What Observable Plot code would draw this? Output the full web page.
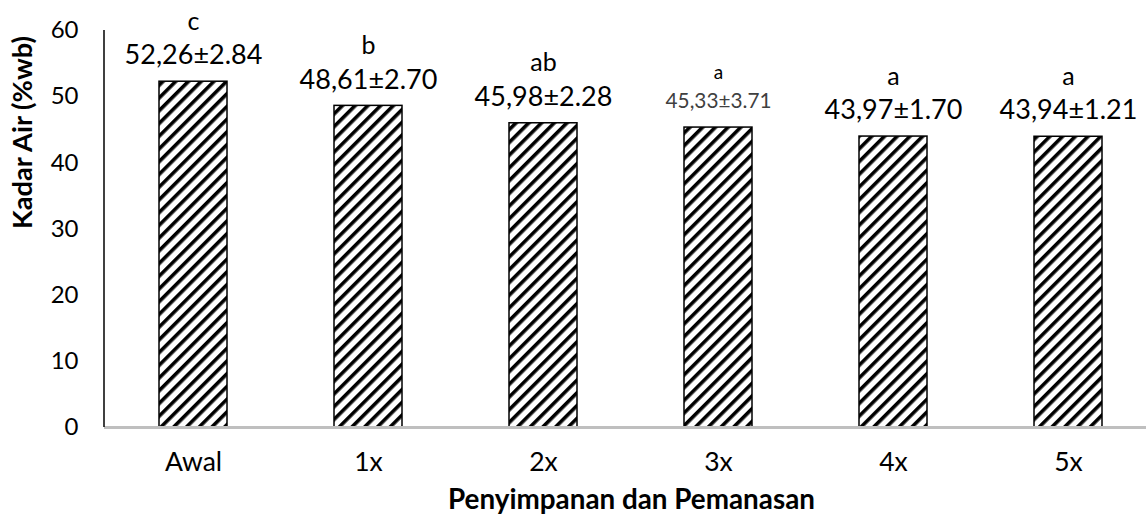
<!DOCTYPE html>
<html>
<head>
<meta charset="utf-8">
<script src="https://cdn.jsdelivr.net/npm/d3@7"></script>
<script src="https://cdn.jsdelivr.net/npm/@observablehq/plot@0.6"></script>
<style>
  html, body { margin: 0; padding: 0; background: #fff; }
  #chart svg { display: block; font-family: Lato, "Open Sans", sans-serif; }
</style>
</head>
<body>
<div id="chart"></div>
<script>
const categories = ["Awal", "1x", "2x", "3x", "4x", "5x"];
const means = [52.26, 48.61, 45.98, 45.33, 43.97, 43.94];
const sds = [2.84, 2.70, 2.28, 3.71, 1.70, 1.21];
const letters = ["c", "b", "ab", "a", "a", "a"];
const yTicks = [0, 10, 20, 30, 40, 50, 60];
const yLabel = "Kadar Air (%wb)";
const xLabel = "Penyimpanan dan Pemanasan";

const data = categories.map((c, i) => ({
  cat: c,
  value: means[i],
  label: means[i].toFixed(2).replace(".", ",") + "±" + sds[i].toFixed(2),
  letter: letters[i]
}));

const small = d => d.cat === "3x";
const big = d => d.cat !== "3x";

const W = 1146, H = 517;
const mL = 104, mB = 90, mT = 30;

const yAxisLine = (index, scales) => {
  const line = document.createElementNS("http://www.w3.org/2000/svg", "line");
  line.setAttribute("x1", mL);
  line.setAttribute("x2", mL);
  line.setAttribute("y1", scales.y(60));
  line.setAttribute("y2", scales.y(0));
  line.setAttribute("stroke", "#000");
  line.setAttribute("stroke-width", 1.5);
  return line;
};

const chart = Plot.plot({
  width: W,
  height: H,
  marginLeft: mL,
  marginRight: 0,
  marginTop: mT,
  marginBottom: mB,
  style: { fontFamily: "Lato, 'Open Sans', sans-serif", background: "#fff", overflow: "visible" },
  x: { domain: categories, range: [mL, 1158], paddingInner: 0.61, paddingOuter: 0.305, label: null },
  y: { domain: [0, 60], label: null },
  marks: [
    Plot.barY(data, { x: "cat", y: "value", fill: "url(#hatch)", stroke: "#000", strokeWidth: 1.5 }),
    Plot.ruleY([0], { stroke: "#bfbfbf", strokeWidth: 3 }),
    yAxisLine,
    Plot.axisY({ ticks: yTicks, tickSize: 0, tickPadding: 26, fontSize: 24, fill: "#000", label: null }),
    Plot.axisX({ tickSize: 0, tickPadding: 25, fontSize: 26.5, fill: "#000", label: null }),
    Plot.text(data.filter(big), { x: "cat", y: "value", text: "label", dy: -26, fontSize: 27, fill: "#000" }),
    Plot.text(data.filter(big), { x: "cat", y: "value", text: "letter", dy: -60, fontSize: 25, fill: "#000" }),
    Plot.text(data.filter(small), { x: "cat", y: "value", text: "label", dy: -26, fontSize: 19, fill: "#404040" }),
    Plot.text(data.filter(small), { x: "cat", y: "value", text: "letter", dy: -55, fontSize: 19, fill: "#000" }),
    Plot.text([yLabel], { frameAnchor: "left", rotate: -90, dx: -81, fontSize: 25, fontWeight: "bold", fill: "#000" }),
    Plot.text([xLabel], { frameAnchor: "bottom", dx: 6, dy: 81, fontSize: 25, fontWeight: "bold", fill: "#000" })
  ]
});

const defs = d3.create("svg:defs");
const pat = defs.append("pattern")
  .attr("id", "hatch")
  .attr("patternUnits", "userSpaceOnUse")
  .attr("width", 9)
  .attr("height", 9)
  .attr("patternTransform", "rotate(45)");
pat.append("rect").attr("width", 9).attr("height", 9).attr("fill", "#fff");
pat.append("rect").attr("x", 0).attr("y", 0).attr("width", 3.6).attr("height", 9).attr("fill", "#000");
chart.insertBefore(defs.node(), chart.firstChild);

document.getElementById("chart").appendChild(chart);

// Fit a few texts so their widths match the widths measured on the reference
function fitText(content, target) {
  try {
    const texts = Array.from(chart.querySelectorAll("text")).filter(t => t.textContent === content);
    texts.forEach(t => {
      const cur = parseFloat(getComputedStyle(t).fontSize);
      const w = t.getBBox().width;
      if (!w) return;
      const size = cur * target / w;
      t.setAttribute("font-size", size);
      t.style.fontSize = size + "px";
    });
  } catch (e) {}
}
fitText(yLabel, 193);
fitText(xLabel, 367);
fitText(data.find(small).label, 106);
</script>
</body>
</html>
